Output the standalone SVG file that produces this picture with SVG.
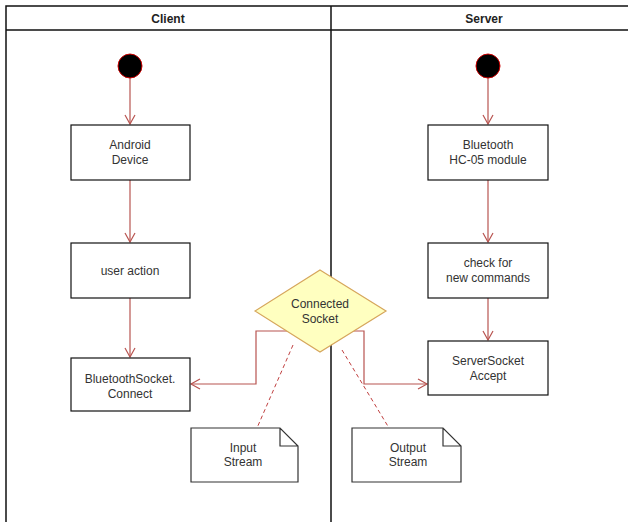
<svg xmlns="http://www.w3.org/2000/svg" width="628" height="522" viewBox="0 0 628 522">
<style>
text{font-family:"Liberation Sans",Arial,sans-serif;font-size:12px;fill:#333;text-anchor:middle}
.hdr{font-weight:bold;fill:#222}
.lane{stroke:#111;stroke-width:1.5;fill:none}
.box{fill:#fff;stroke:#111;stroke-width:1.2}
.note{fill:#fff;stroke:#333;stroke-width:1.2}
.start{fill:#000;stroke:#c00;stroke-width:1}
.edge{fill:none;stroke:#b85450;stroke-width:1.2}
.dash{fill:none;stroke:#c04040;stroke-width:1;stroke-dasharray:4 3}
.dia{fill:#ffffc0;stroke:#d6a65c;stroke-width:1.2}
</style>
<defs>
<marker id="arr" markerWidth="12" markerHeight="12" refX="10" refY="6" orient="auto" markerUnits="userSpaceOnUse">
<path d="M1,1 L10,6 L1,11" fill="none" stroke="#b85450" stroke-width="1.2"/>
</marker>
</defs>
<rect width="628" height="522" fill="#fff"/>
<g id="lanes">
<path class="lane" d="M6,522 V6 H628 M6,30 H628 M331,6 V522"/>
<text class="hdr" x="168" y="23">Client</text>
<text class="hdr" x="484" y="23">Server</text>
</g>
<g id="connectors">
<path class="edge" d="M130,78 V124" marker-end="url(#arr)"/>
<path class="edge" d="M130,180 V242" marker-end="url(#arr)"/>
<path class="edge" d="M130,298 V357" marker-end="url(#arr)"/>
<path class="edge" d="M488,78 V124" marker-end="url(#arr)"/>
<path class="edge" d="M488,180 V242" marker-end="url(#arr)"/>
<path class="edge" d="M488,298 V340" marker-end="url(#arr)"/>
<path class="edge" d="M287,331 H256 V384 H191" marker-end="url(#arr)"/>
<path class="edge" d="M353,331 H364 V384 H427" marker-end="url(#arr)"/>
<path class="dash" d="M293,345 L257,428"/>
<path class="dash" d="M342,350 L389,428"/>
</g>
<g id="client-start"><circle class="start" cx="130" cy="66" r="12"/></g>
<g id="server-start"><circle class="start" cx="488" cy="66" r="12"/></g>
<g id="android-device">
<rect class="box" x="71" y="125" width="119" height="55"/>
<text x="130" y="149">Android</text>
<text x="130" y="164">Device</text>
</g>
<g id="user-action">
<rect class="box" x="71" y="243" width="119" height="55"/>
<text x="130" y="275">user action</text>
</g>
<g id="bt-connect">
<rect class="box" x="71" y="358" width="119" height="53"/>
<text x="130" y="383">BluetoothSocket.</text>
<text x="130" y="398">Connect</text>
</g>
<g id="hc05">
<rect class="box" x="428" y="125" width="120" height="55"/>
<text x="488" y="149">Bluetooth</text>
<text x="488" y="164">HC-05 module</text>
</g>
<g id="check-commands">
<rect class="box" x="428" y="243" width="120" height="55"/>
<text x="488" y="267">check for</text>
<text x="488" y="282">new commands</text>
</g>
<g id="server-accept">
<rect class="box" x="428" y="341" width="120" height="54"/>
<text x="488" y="365">ServerSocket</text>
<text x="488" y="380">Accept</text>
</g>
<g id="connected-socket">
<path class="dia" d="M320,270 L386,311 L320,352 L255,311 Z"/>
<text x="320" y="308">Connected</text>
<text x="320" y="323">Socket</text>
</g>
<g id="input-stream">
<path class="note" d="M191,428 H280 L298,446 V482 H191 Z M280,428 V446 H298"/>
<text x="243" y="452">Input</text>
<text x="243" y="466">Stream</text>
</g>
<g id="output-stream">
<path class="note" d="M352,428 H443 L461,446 V482 H352 Z M443,428 V446 H461"/>
<text x="408" y="452">Output</text>
<text x="408" y="466">Stream</text>
</g>
</svg>
